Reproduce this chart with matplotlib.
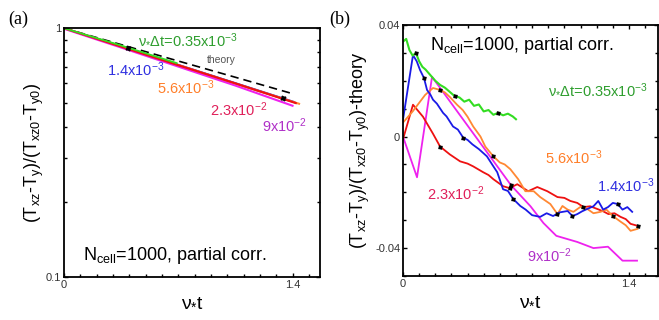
import numpy as np
import matplotlib
matplotlib.use('Agg')
from matplotlib import pyplot as plt
from matplotlib.ticker import MultipleLocator, FixedLocator, NullFormatter

plt.rcParams['font.family'] = ['Liberation Sans', 'DejaVu Sans']
plt.rcParams['mathtext.fontset'] = 'custom'
plt.rcParams['mathtext.rm'] = 'Liberation Sans'
plt.rcParams['mathtext.it'] = 'Liberation Sans:italic'
plt.rcParams['mathtext.default'] = 'regular'

# ---- panel (a): normalised anisotropy, log scale
ta_theory = [0.0, 0.35, 0.70, 1.05, 1.39]
ya_theory = [1.0, 0.859, 0.738, 0.635, 0.548]
ta_green = [0.0, 0.35, 0.69]
ya_green = [1.0, 0.852, 0.724]
ta_blue = [0.0, 0.35, 0.70, 1.05, 1.41]
ya_blue = [1.0, 0.845, 0.712, 0.601, 0.505]
ta_orange = [0.0, 0.35, 0.70, 1.05, 1.44]
ya_orange = [1.0, 0.845, 0.711, 0.599, 0.497]
ta_red = [0.0, 0.35, 0.70, 1.05, 1.42]
ya_red = [1.0, 0.843, 0.710, 0.600, 0.500]
ta_mag = [0.0, 0.35, 0.70, 1.05, 1.40]
ya_mag = [0.995, 0.836, 0.701, 0.588, 0.488]

# ---- panel (b): difference from theory
tb_green = [0.00, 0.02, 0.04, 0.06, 0.08, 0.10, 0.12, 0.14, 0.17, 0.20, 0.23, 0.26, 0.29,
            0.32, 0.35, 0.38, 0.41, 0.44, 0.47, 0.50, 0.53, 0.56, 0.59, 0.62, 0.65, 0.68, 0.70]
vb_green = [0.034, 0.035, 0.031, 0.029, 0.030, 0.027, 0.025, 0.024, 0.022, 0.020, 0.0185, 0.0175, 0.016,
            0.0145, 0.014, 0.0125, 0.0132, 0.011, 0.0115, 0.009, 0.0095, 0.0078, 0.0085, 0.0076, 0.0082, 0.0072, 0.0062]

tb_blue = [0.00, 0.062, 0.085, 0.106, 0.13, 0.149, 0.17, 0.186, 0.21, 0.248, 0.27, 0.31, 0.34, 0.373,
           0.40, 0.43, 0.47, 0.52, 0.55, 0.584, 0.62, 0.65, 0.683, 0.727, 0.76, 0.80, 0.85, 0.89, 0.93,
           0.97, 1.02, 1.05, 1.08, 1.11, 1.14, 1.18, 1.21, 1.24, 1.27, 1.30, 1.33, 1.36, 1.39, 1.42]
vb_blue = [0.006, 0.0292, 0.027, 0.0238, 0.021, 0.0167, 0.0150, 0.0132, 0.0118, 0.0085, 0.0072, 0.0036, 0.0025, -0.0004,
           -0.0012, -0.0028, -0.0045, -0.0071, -0.0098, -0.0128, -0.0189, -0.0195, -0.0224, -0.0249, -0.0262, -0.0282, -0.0288, -0.0275, -0.0285,
           -0.0272, -0.0267, -0.0285, -0.0278, -0.0268, -0.026, -0.0250, -0.0231, -0.0262, -0.0253, -0.0238, -0.0242, -0.0262, -0.0253, -0.027]

tb_orange = [0.00, 0.06, 0.137, 0.186, 0.23, 0.26, 0.29, 0.335, 0.37, 0.40, 0.435, 0.48, 0.51, 0.56,
             0.60, 0.63, 0.665, 0.714, 0.758, 0.81, 0.85, 0.913, 0.957, 0.988, 1.02, 1.056, 1.10, 1.143,
             1.18, 1.224, 1.26, 1.30, 1.35, 1.38, 1.41, 1.453]
vb_orange = [0.005, 0.009, 0.0149, 0.0174, 0.0167, 0.0158, 0.0142, 0.0114, 0.0095, 0.0071, 0.0036, 0.0, -0.0036, -0.0071,
             -0.0093, -0.0100, -0.0117, -0.0153, -0.0196, -0.0196, -0.0217, -0.0242, -0.0278, -0.0249, -0.0262, -0.027, -0.0252, -0.026,
             -0.0275, -0.027, -0.0262, -0.0285, -0.0306, -0.0318, -0.0338, -0.0331]

tb_red = [0.00, 0.062, 0.124, 0.186, 0.23, 0.29, 0.354, 0.40, 0.435, 0.497, 0.53, 0.56, 0.62, 0.66,
          0.708, 0.776, 0.832, 0.894, 0.957, 1.00, 1.037, 1.08, 1.118, 1.16, 1.205, 1.24, 1.273, 1.31,
          1.348, 1.38, 1.41, 1.453]
vb_red = [-0.001, 0.0114, 0.0071, 0.0010, -0.0036, -0.0064, -0.0089, -0.0097, -0.0107, -0.0128, -0.0138, -0.0153, -0.0178, -0.0185,
          -0.0171, -0.0196, -0.0181, -0.0196, -0.0217, -0.0220, -0.0231, -0.0238, -0.0253, -0.0250, -0.026, -0.0268, -0.0278, -0.0275,
          -0.0288, -0.0296, -0.0313, -0.032]

tb_mag = [0.0, 0.087, 0.18, 0.50, 0.67, 0.79, 0.87, 0.95, 1.08, 1.18, 1.27, 1.36, 1.45]
vb_mag = [0.0, -0.0146, 0.0214, -0.004, -0.0175, -0.025, -0.031, -0.0356, -0.0378, -0.040, -0.0395, -0.0445, -0.0445]

c_green = '#33dd22'
c_blue = '#1a1ae6'
c_orange = '#ff8833'
c_red = '#ee1111'
c_mag = '#ee22ee'

fig = plt.figure(figsize=(6.59, 3.2), dpi=100)
axa = fig.add_axes([0.097, 0.134, 0.389, 0.778])
axb = fig.add_axes([0.6115, 0.1375, 0.387, 0.7845])

# (a)
axa.plot(ta_theory, ya_theory, color='k', lw=1.2, ls=(0, (5, 3)))
axa.plot(ta_blue, ya_blue, color=c_blue, lw=1.5)
axa.plot(ta_orange, ya_orange, color=c_orange, lw=1.5)
axa.plot(ta_mag, ya_mag, color=c_mag, lw=1.5)
axa.plot(ta_red, ya_red, color=c_red, lw=1.5)
axa.plot(ta_green, ya_green, color=c_green, lw=1.3)
axa.plot([ta_red[1] + 0.04, ta_red[4] - 0.08], [ya_red[1] - 0.01, 0.525], 'k', marker=(4, 1, 30),
         ms=4, ls='none')
axa.set_yscale('log')
axa.set_xlim(0, 1.57)
axa.set_ylim(0.1, 1)
axa.xaxis.set_major_locator(FixedLocator([0, 1.4]))
axa.xaxis.set_minor_locator(MultipleLocator(0.1))
axa.set_xticklabels(['0', '1.4'])
axa.yaxis.set_major_locator(FixedLocator([0.1, 1]))
axa.set_yticklabels(['0.1', '1'])
axa.yaxis.set_minor_formatter(NullFormatter())

fs = 10.5
axa.text(0.454, 0.895, r'$\nu_{*}\Delta t$=0.35x10$^{-3}$', color='#2e9e2e', fontsize=fs, va='center')
axa.text(0.877, 0.744, 'theory', color='#555555', fontsize=7.5, va='center')
axa.text(0.264, 0.678, '1.4x10$^{-3}$', color='#3030e0', fontsize=fs, va='center')
axa.text(0.571, 0.574, '5.6x10$^{-3}$', color='#ff7f2a', fontsize=fs, va='center')
axa.text(0.896, 0.469, '2.3x10$^{-2}$', color='#e0205a', fontsize=fs, va='center')
axa.text(1.215, 0.404, '9x10$^{-2}$', color='#b030c8', fontsize=fs, va='center')
axa.text(0.117, 0.1226, 'N$_{cell}$=1000, partial corr.', fontsize=13, va='center')
axa.set_xlabel(r'$\nu_{*}t$', fontsize=14, labelpad=2)
axa.set_ylabel('(T$_{xz}$-T$_{y}$)/(T$_{xz0}$-T$_{y0}$)', fontsize=13, labelpad=0)

# (b)
axb.plot(tb_mag, vb_mag, color=c_mag, lw=1.3)
axb.plot(tb_red, vb_red, color=c_red, lw=1.3)
axb.plot(tb_orange, vb_orange, color=c_orange, lw=1.3)
axb.plot(tb_blue, vb_blue, color=c_blue, lw=1.3)
axb.plot(tb_green, vb_green, color=c_green, lw=1.5)
for t, v in [(tb_green, vb_green), (tb_blue, vb_blue), (tb_orange, vb_orange),
             (tb_red, vb_red), (tb_mag, vb_mag)]:
    axb.plot(t, v, ls='none', marker=(4, 1, 30), ms=3, color='k', markevery=slice(4, None, 9))
axb.set_xlim(0, 1.58)
axb.set_ylim(-0.05, 0.04)
axb.xaxis.set_major_locator(FixedLocator([0, 1.4]))
axb.xaxis.set_minor_locator(MultipleLocator(0.1))
axb.set_xticklabels(['0', '1.4'])
axb.yaxis.set_major_locator(FixedLocator([-0.04, 0, 0.04]))
axb.yaxis.set_minor_locator(MultipleLocator(0.01))
axb.set_yticklabels(['-0.04', '0', '0.04'])

axb.text(0.90, 0.0167, r'$\nu_{*}\Delta t$=0.35x10$^{-3}$', color='#2e9e2e', fontsize=fs, va='center')
axb.text(0.88, -0.0075, '5.6x10$^{-3}$', color='#ff7f2a', fontsize=fs, va='center')
axb.text(1.205, -0.0178, '1.4x10$^{-3}$', color='#3030e0', fontsize=fs, va='center')
axb.text(0.149, -0.0206, '2.3x10$^{-2}$', color='#e0205a', fontsize=fs, va='center')
axb.text(0.77, -0.0427, '9x10$^{-2}$', color='#b030c8', fontsize=fs, va='center')
axb.text(0.168, 0.0327, 'N$_{cell}$=1000, partial corr.', fontsize=13, va='center')
axb.set_xlabel(r'$\nu_{*}t$', fontsize=14, labelpad=2)
axb.set_ylabel('(T$_{xz}$-T$_{y}$)/(T$_{xz0}$-T$_{y0}$)-theory', fontsize=13, labelpad=2)

for ax in (axa, axb):
    ax.tick_params(which='both', direction='in', top=(ax is axb), right=True, labelsize=8,
                   labelcolor='#333333', pad=2)
    ax.tick_params(which='major', length=3, width=1)
    ax.tick_params(which='minor', length=2.5, width=1)
    for s in ax.spines.values():
        s.set_linewidth(1.3)

fig.text(0.012, 0.925, '(a)', fontsize=13, family='Liberation Serif')
fig.text(0.50, 0.925, '(b)', fontsize=13, family='Liberation Serif')

fig.savefig('out.png', dpi=100)
